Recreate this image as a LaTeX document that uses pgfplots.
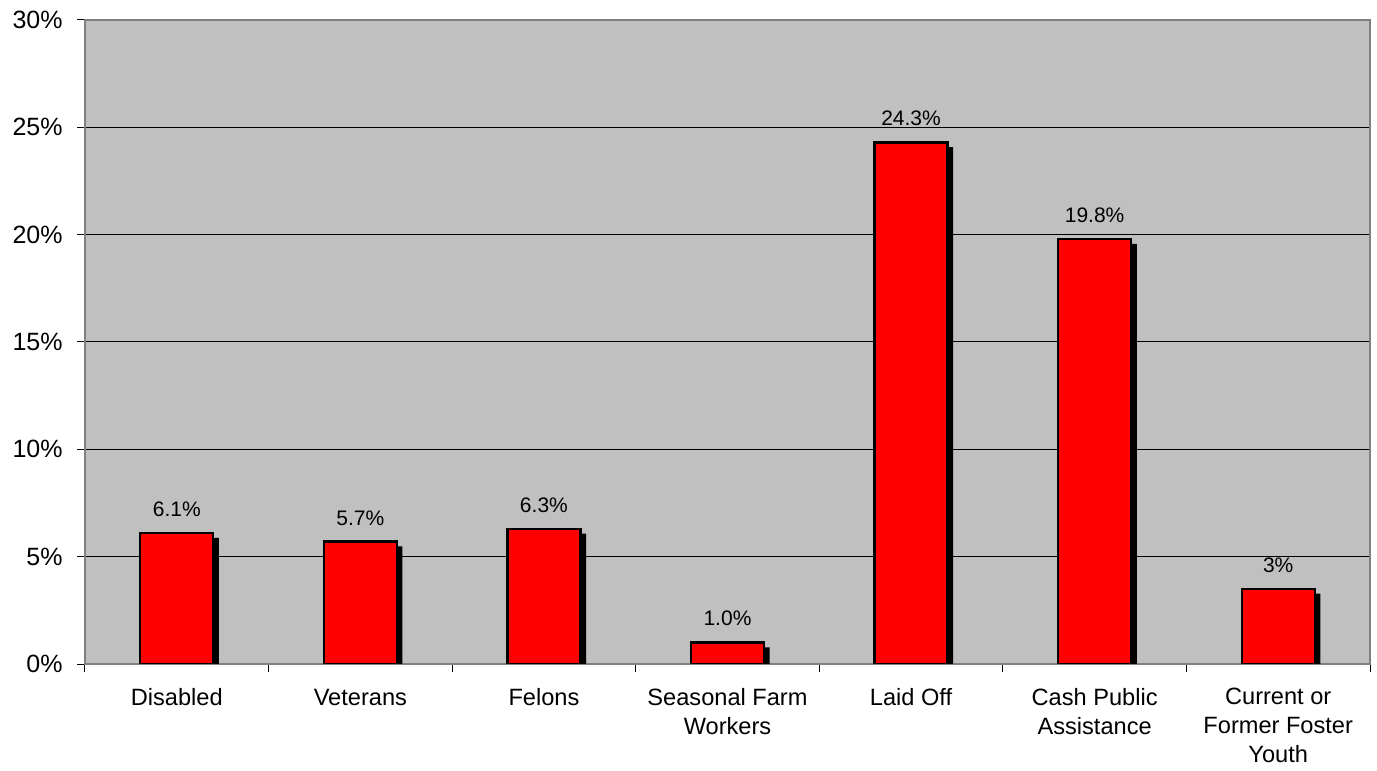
\documentclass[border=0pt]{standalone}
\usepackage{pgfplots}
\usepackage{pgfplotstable}
\pgfplotsset{compat=1.18}
\usepackage{fontspec}
\setmainfont{Liberation Sans}
\definecolor{bg}{HTML}{C0C0C0}
\definecolor{framec}{HTML}{808080}
\pgfplotstableread{
x y label
0 6.1 6.1
1 5.7 5.7
2 6.3 6.3
3 1.0 1.0
4 24.3 24.3
5 19.8 19.8
6 3.5 3
}\datatable
\begin{document}
\begin{tikzpicture}
\useasboundingbox (-42.5bp,-53.5bp) rectangle (646bp,332bp);
\begin{axis}[
  at={(0,0)}, anchor=south west,
  scale only axis, width=642.5bp, height=322bp,
  xmin=-0.5, xmax=6.5, ymin=0, ymax=30,
  axis background/.style={fill=bg},
  axis line style={draw=framec, line width=1bp},
  ytick={0,5,...,30},
  yticklabels={0\%,5\%,10\%,15\%,20\%,25\%,30\%},
  ymajorgrids, grid style={black, line width=0.5bp},
  xtick={-0.5,0.5,...,6.5},
  x tick label as interval,
  xticklabels={Disabled, Veterans, Felons, {Seasonal Farm\\Workers}, Laid Off, {Cash Public\\Assistance}, {Current or\\Former Foster\\Youth}},
  xticklabel style={align=center, font=\fontsize{11.8bp}{14.5bp}\selectfont, anchor=north, inner sep=0pt, yshift=-8bp, execute at begin node={\rule{0pt}{8.6bp}}},
  yticklabel style={font=\fontsize{12.5bp}{15bp}\selectfont, anchor=east, inner sep=0pt, xshift=-7bp},
  tick align=outside, major tick length=4bp,
  tick style={black, line width=0.5bp},
  xtick pos=bottom, ytick pos=left,
]
\addplot[ybar, bar width=37.7bp, bar shift=2.2bp, yshift=-2.4bp, fill=black, draw=none] table[x=x, y=y] {\datatable};
\addplot[ybar, bar width=36.5bp, bar shift=0bp, fill=red, draw=black, line width=1.2bp,
  point meta=explicit symbolic,
  nodes near coords={\pgfplotspointmeta\%},
  every node near coord/.append style={font=\fontsize{10.5bp}{12bp}\selectfont, anchor=base, inner sep=0pt, yshift=8.3bp, black}]
  table[x=x, y=y, meta=label] {\datatable};
\end{axis}
\end{tikzpicture}
\end{document}
